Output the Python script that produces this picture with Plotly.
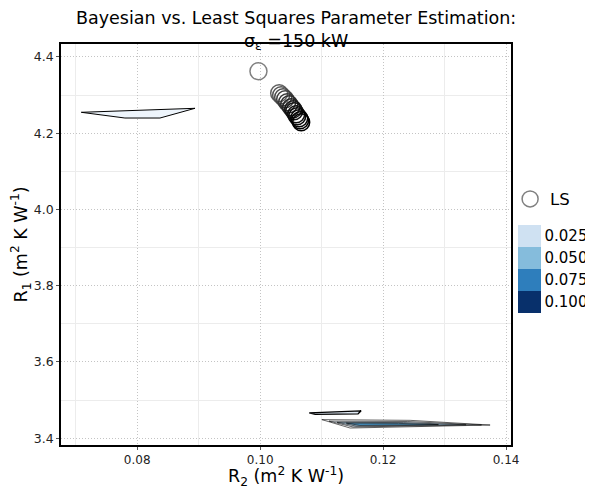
import plotly.graph_objects as go

# ---- data ----
# Least-squares estimates (R2, R1), ordered light -> dark
ls_r2 = [0.09972, 0.10309, 0.10341, 0.10374, 0.10407, 0.10439, 0.10472, 0.10504,
         0.10537, 0.10553, 0.10585, 0.10602, 0.10634, 0.10650, 0.10667]
ls_r1 = [4.3627, 4.3050, 4.2997, 4.2945, 4.2892, 4.2814, 4.2761, 4.2682,
         4.2630, 4.2577, 4.2499, 4.2446, 4.2394, 4.2341, 4.2289]
ls_shade = [0.5, 0.62, 0.66, 0.7, 0.74, 0.78, 0.82, 0.86, 0.9, 0.92, 0.94, 0.96, 0.98, 1.0, 1.0]

# Posterior density contour outlines (R2 vertices, R1 vertices)
upper_left_r2 = [0.0709, 0.0894, 0.0837, 0.0780, 0.0709]
upper_left_r1 = [4.2548, 4.2653, 4.2398, 4.2398, 4.2548]

small_r2 = [0.10797, 0.11642, 0.11593, 0.10894, 0.10797]
small_r1 = [3.4664, 3.4717, 3.4638, 3.4625, 3.4664]

main_r2 = [
    [0.11003, 0.12439, 0.13740, 0.11463, 0.11003],
    [0.11120, 0.12400, 0.13600, 0.11510, 0.11120],
    [0.11250, 0.12330, 0.13350, 0.11560, 0.11250],
    [0.11400, 0.12250, 0.12900, 0.11620, 0.11400],
]
main_r1 = [
    [3.4486, 3.4467, 3.4344, 3.4265, 3.4486],
    [3.4446, 3.4436, 3.4347, 3.4293, 3.4446],
    [3.4415, 3.4408, 3.4350, 3.4316, 3.4415],
    [3.4393, 3.4387, 3.4355, 3.4336, 3.4393],
]
main_fill = ["#ffffff", "#e8f1fa", "#a9cde4", "#4a98c9"]

levels = ["0.025", "0.050", "0.075", "0.100"]
level_colors = ["#cfe1f2", "#85bcdc", "#2e7ebc", "#08306b"]

title_text = "Bayesian vs. Least Squares Parameter Estimation:<br>σ<sub>ε</sub> =150 kW"
x_title = "R<sub>2</sub> (m<sup>2</sup> K W<sup>-1</sup>)"
y_title = "R<sub>1</sub> (m<sup>2</sup> K W<sup>-1</sup>)"
x_ticks = [0.08, 0.10, 0.12, 0.14]
x_ticklabels = ["0.08", "0.10", "0.12", "0.14"]
y_ticks = [3.4, 3.6, 3.8, 4.0, 4.2, 4.4]
y_ticklabels = ["3.4", "3.6", "3.8", "4.0", "4.2", "4.4"]

FONT = "DejaVu Sans"

fig = go.Figure()

# contours
fig.add_trace(go.Scatter(x=upper_left_r2, y=upper_left_r1, mode="lines", fill="toself",
                         fillcolor="#eef5fc", line=dict(color="black", width=1),
                         showlegend=False, hoverinfo="skip"))
fig.add_trace(go.Scatter(x=small_r2, y=small_r1, mode="lines", fill="toself",
                         fillcolor="#dfe9f4", line=dict(color="black", width=1.3),
                         showlegend=False, hoverinfo="skip"))
for xs, ys, fc in zip(main_r2, main_r1, main_fill):
    fig.add_trace(go.Scatter(x=xs, y=ys, mode="lines", fill="toself", fillcolor=fc,
                             line=dict(color="black", width=0.6),
                             showlegend=False, hoverinfo="skip"))

# LS estimates
fig.add_trace(go.Scatter(
    x=ls_r2, y=ls_r1, mode="markers", name="LS",
    marker=dict(symbol="circle-open", size=17, color=ls_shade, cmin=0, cmax=1,
                colorscale=[[0, "#ffffff"], [1, "#000000"]], line=dict(width=1.5)),
    hoverinfo="skip"))

# discrete colorbar legend for density levels (0.025 on top)
n = len(levels)
cs = []
for i, c in enumerate(level_colors[::-1]):
    cs.append([i / n, c])
    cs.append([(i + 1) / n, c])
fig.add_trace(go.Scatter(
    x=[None], y=[None], mode="markers", showlegend=False, hoverinfo="skip",
    marker=dict(color=[0], cmin=0, cmax=n, colorscale=cs, showscale=True,
                colorbar=dict(x=1.016, xanchor="left", xpad=0, y=0.44, yanchor="middle",
                              len=88, lenmode="pixels", thickness=23, outlinewidth=0,
                              tickvals=[i + 0.5 for i in range(n)], ticktext=levels[::-1],
                              ticks="", ticklen=0,
                              tickfont=dict(family=FONT, size=15, color="black"),
                              ypad=0))))

grid_major = dict(showgrid=True, gridcolor="#c4c4c4", griddash="1px,2px", gridwidth=1)
minor_grid = dict(showgrid=True, gridcolor="#ececec", gridwidth=1, griddash="solid", ticks="")
fig.update_xaxes(range=[0.0676, 0.1408], tickvals=x_ticks, ticktext=x_ticklabels,
                 ticks="outside", ticklen=3, tickcolor="#555", showline=True, linecolor="black",
                 linewidth=1.5, mirror=True, zeroline=False, automargin=False,
                 tickfont=dict(family=FONT, size=12, color="#222"),
                 minor=dict(tickvals=[0.07, 0.09, 0.11, 0.13], **minor_grid),
                 **grid_major)
fig.update_yaxes(range=[3.382, 4.434], tickvals=y_ticks, ticktext=y_ticklabels,
                 ticks="outside", ticklen=3, tickcolor="#555", showline=True, linecolor="black",
                 linewidth=1.5, mirror=True, zeroline=False, automargin=False,
                 tickfont=dict(family=FONT, size=12.5, color="#222"),
                 minor=dict(tickvals=[3.5, 3.7, 3.9, 4.1, 4.3], **minor_grid),
                 **grid_major)

# titles as annotations for exact placement
fig.add_annotation(text=title_text, xref="paper", yref="paper", x=0.522, y=1,
                   xanchor="center", yanchor="middle", yshift=14, showarrow=False,
                   font=dict(family=FONT, size=17.5, color="black"))
fig.add_annotation(text=x_title, xref="paper", yref="paper", x=0.5, y=0,
                   xanchor="center", yanchor="middle", yshift=-31, showarrow=False,
                   font=dict(family=FONT, size=17.5, color="black"))
fig.add_annotation(text=y_title, xref="paper", yref="paper", x=0, y=0.5, textangle=-90,
                   xanchor="center", yanchor="middle", xshift=-40, showarrow=False,
                   font=dict(family=FONT, size=17.5, color="black"))

fig.update_layout(
    width=585, height=481,
    margin=dict(l=53, r=82, t=36, b=44, autoexpand=False),
    paper_bgcolor="white", plot_bgcolor="white",
    font=dict(family=FONT),
    legend=dict(x=0.998, xanchor="left", y=0.613, yanchor="middle",
                font=dict(family=FONT, size=16.5, color="black"),
                bgcolor="rgba(0,0,0,0)", itemwidth=30, tracegroupgap=0),
)

fig.write_html("out.html")
